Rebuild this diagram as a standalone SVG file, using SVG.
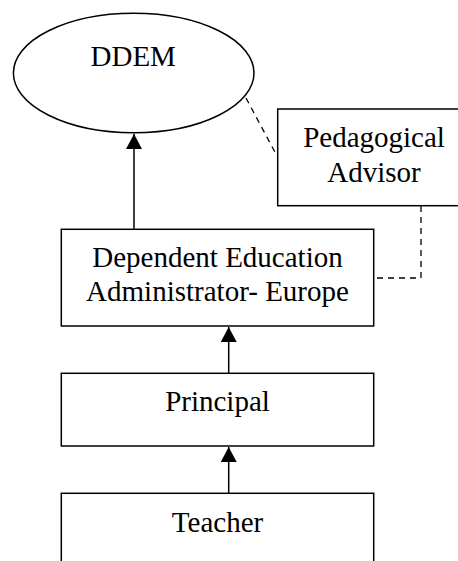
<svg xmlns="http://www.w3.org/2000/svg" width="458" height="561" viewBox="0 0 458 561">
<style>
.box{fill:#fff;stroke:#000;stroke-width:1.5}
.t{font-family:"Liberation Serif","Times New Roman",serif;font-size:29px;fill:#000;text-anchor:middle}
.ln{stroke:#000;stroke-width:1.5;fill:none}
.dash{stroke:#000;stroke-width:1.3;fill:none;stroke-dasharray:6 5}
</style>
<defs>
<marker id="arr" markerWidth="16" markerHeight="16" refX="15" refY="8" orient="auto" markerUnits="userSpaceOnUse">
<path d="M0,0 L15,8 L0,16 Z" fill="#000"/>
</marker>
</defs>
<g id="connectors">
<line class="dash" x1="246" y1="98" x2="277" y2="156"/>
<path class="dash" d="M421,206 V278 H374"/>
<line class="ln" x1="134" y1="229" x2="134" y2="134" marker-end="url(#arr)"/>
<line class="ln" x1="228.7" y1="373" x2="228.7" y2="327" marker-end="url(#arr)"/>
<line class="ln" x1="228.7" y1="493" x2="228.7" y2="447" marker-end="url(#arr)"/>
</g>
<g id="ddem">
<ellipse class="box" cx="133.7" cy="73" rx="120.3" ry="59.7"/>
<text class="t" x="133.2" y="65.7">DDEM</text>
</g>
<g id="pedagogical-advisor">
<rect class="box" x="277.7" y="109" width="200" height="96.7"/>
<text class="t" x="374" y="146.7">Pedagogical</text>
<text class="t" x="374" y="181.7">Advisor</text>
</g>
<g id="dea">
<rect class="box" x="61.3" y="229.3" width="312.4" height="96.7"/>
<text class="t" x="217.5" y="266.7">Dependent Education</text>
<text class="t" x="217.5" y="300.7">Administrator- Europe</text>
</g>
<g id="principal">
<rect class="box" x="61.3" y="373.3" width="312.4" height="72.7"/>
<text class="t" x="217.5" y="411">Principal</text>
</g>
<g id="teacher">
<rect class="box" x="61.3" y="493.3" width="312.4" height="100"/>
<text class="t" x="217.5" y="531.7">Teacher</text>
</g>
</svg>
